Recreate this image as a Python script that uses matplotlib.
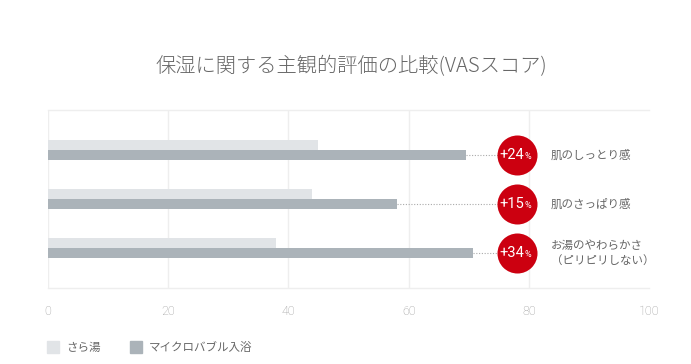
import numpy as np
from matplotlib import pyplot as plt

plt.rcParams['font.family'] = ['Noto Sans CJK JP', 'DejaVu Sans']

# data
categories = ["肌のしっとり感", "肌のさっぱり感", "お湯のやわらかさ\n（ピリピリしない）"]
sarayu = [45, 44, 38]
micro = [69.5, 58, 70.7]
increase = ["+24", "+15", "+34"]
ticks = [0, 20, 40, 60, 80, 100]
series_names = ["さら湯", "マイクロバブル入浴"]

light_col = "#e1e4e7"
dark_col = "#abb3b9"
red_col = "#cc0010"
text_col = "#666666"

fig = plt.figure(figsize=(6.91, 3.64), dpi=100)
ax = fig.add_axes([48 / 691, 1 - 288 / 364, 601 / 691, 178 / 364])

y = np.arange(len(categories))
h = 0.204
ax.barh(y - h / 2, sarayu, height=h, color=light_col, zorder=2)
ax.barh(y + h / 2, micro, height=h, color=dark_col, zorder=2)

circle_x = 78
for i in range(len(categories)):
    ax.plot([micro[i], circle_x], [y[i] + h / 2] * 2, color="#aaaaaa",
            lw=0.8, ls=(0, (1, 1.5)), zorder=1)
    ax.scatter([circle_x], [y[i] + h / 2], s=830, color=red_col, zorder=3,
               clip_on=False, linewidths=0)
    ax.annotate(increase[i], (circle_x, y[i] + h / 2), xytext=(5.5, 0),
                textcoords="offset points", ha="right", va="center",
                color="white", fontsize=10.5, family="Roboto", zorder=4)
    ax.annotate("%", (circle_x, y[i] + h / 2), xytext=(5.9, -0.8),
                textcoords="offset points", ha="left", va="center",
                color="white", fontsize=6.5, family="Roboto", zorder=4)
    ax.annotate(categories[i], (circle_x, y[i] + h / 2), xytext=(24.5, 0),
                textcoords="offset points", ha="left", va="center",
                color=text_col, fontsize=8.3, linespacing=1.25)

ax.set_xlim(0, 100)
ax.set_ylim(len(categories) - 1 + 0.816, -0.816)

for t in ticks[:-1]:
    ax.axvline(t, color="#eeeeee", lw=1, zorder=0)
for s in ["right", "left"]:
    ax.spines[s].set_visible(False)
for s in ["top", "bottom"]:
    ax.spines[s].set_color("#eeeeee")
    ax.spines[s].set_linewidth(1)

ax.set_yticks([])
ax.set_xticks(ticks)
ax.tick_params(axis="x", length=0, pad=12, labelsize=9, labelcolor="#999999")
for lbl in ax.get_xticklabels():
    lbl.set_family("Roboto")
    lbl.set_weight("light")

fig.text(351 / 691, 1 - 67 / 364, "保湿に関する主観的評価の比較(VASスコア)",
         ha="center", va="center", fontsize=14.6, color=text_col, weight="light")

# legend
for lx, col, name in [(47, light_col, series_names[0]), (130, dark_col, series_names[1])]:
    fig.patches.append(plt.Rectangle((lx / 691, 1 - 353 / 364), 12 / 691, 12 / 364,
                                     transform=fig.transFigure, color=col))
    fig.text((lx + 19) / 691, 1 - 347 / 364, name, ha="left", va="center",
             fontsize=8.3, color=text_col)

fig.savefig("out.png", dpi=100)
